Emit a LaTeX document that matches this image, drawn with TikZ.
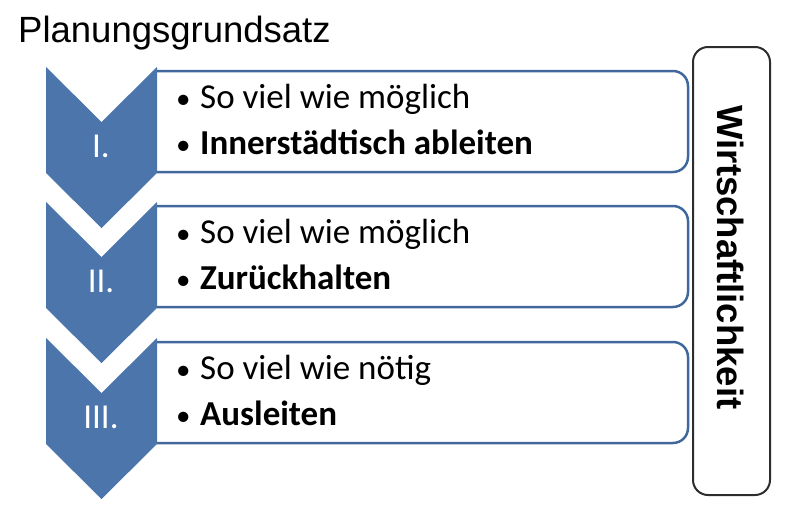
\documentclass[tikz,border=0pt]{standalone}
\usepackage{fontspec}
\setmainfont{Carlito}
\newfontfamily\arialfont{Liberation Sans}
\usepackage{xcolor}
\definecolor{chevblue}{RGB}{76,117,171}
\definecolor{frameblue}{RGB}{64,104,156}
\definecolor{framegray}{RGB}{45,45,45}
\newcommand{\itembullet}{\makebox[24pt][l]{\fontsize{29}{29}\selectfont\textbullet}}

\begin{document}
\begin{tikzpicture}[x=1pt, y=-1pt,
    chev/.style={fill=chevblue},
    num/.style={text=white, font=\fontsize{35}{35}\selectfont, inner sep=0pt, anchor=base},
    itembox/.style={draw=frameblue, line width=2.5pt, rounded corners=15pt},
    item/.style={font=\fontsize{35}{35}\selectfont, inner sep=0pt, anchor=base west}]
\useasboundingbox (0,0) rectangle (804,506);
\node[font=\arialfont\fontsize{36.5}{36.5}\selectfont, inner sep=0pt, anchor=base west] (title) at (18,42) {Planungsgrundsatz};
\foreach \t/\n/\a/\b [count=\i] in {67/I./So viel wie möglich/Innerstädtisch ableiten,
                                    202/II./So viel wie möglich/Zurückhalten,
                                    338/III./So viel wie nötig/Ausleiten}{
  \draw[itembox] (157,\t+4) -- (688,\t+4) -- (688,\t+105) -- (157,\t+105);
  \fill[chev] (46,\t) -- (101.5,\t+55) -- (157,\t) -- (157,\t+106) -- (101.5,\t+161) -- (46,\t+106) -- cycle;
  \node[num] (n\i) at (101,\t+90) {\n};
  \node[item] (a\i) at (176,\t+41) {\itembullet\a};
  \node[item] (b\i) at (176,\t+87) {\itembullet\textbf{\b}};
}
\node[draw=framegray, line width=2pt, rounded corners=15pt, minimum width=77pt, minimum height=448pt] (wbox) at (731.5,271) {};
\node[font=\arialfont\bfseries\fontsize{36.5}{36.5}\selectfont, inner sep=0pt, anchor=base, rotate=-90] (wtext) at (717,257.5) {Wirtschaftlichkeit};
\end{tikzpicture}
\end{document}
